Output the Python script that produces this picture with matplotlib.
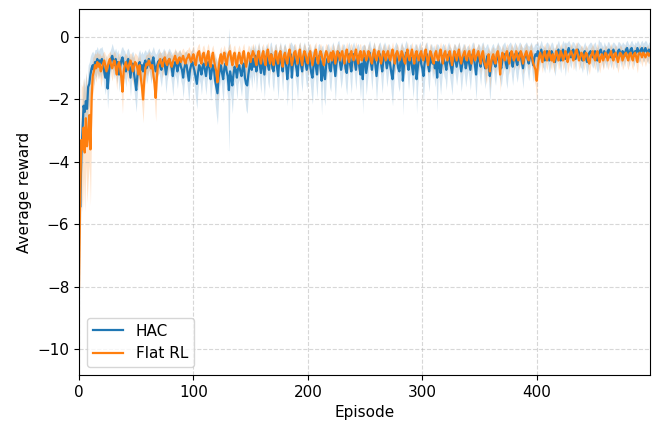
import numpy as np
import matplotlib
matplotlib.use("Agg")
import matplotlib.pyplot as plt

hac_mean = [
-3.65,-5.45,-3.80,-3.05,-2.20,-2.40,-2.05,-2.30,-1.60,-1.50,
-1.20,-1.00,-0.90,-1.05,-0.80,-0.85,-0.70,-0.90,-0.75,-0.85,
-0.70,-0.90,-1.10,-1.30,-1.00,-1.65,-1.20,-0.85,-0.70,-0.60,
-0.75,-0.90,-0.70,-1.00,-0.80,-1.20,-0.95,-0.75,-0.65,-0.85,
-0.90,-1.10,-0.80,-0.70,-1.00,-1.30,-0.95,-0.85,-1.15,-1.40,
-1.70,-1.25,-0.95,-0.80,-1.05,-0.90,-1.10,-0.85,-0.75,-1.00,
-0.90,-0.70,-0.85,-1.00,-0.80,-0.65,-0.90,-1.10,-0.95,-0.80,
-0.75,-0.95,-1.05,-0.85,-0.70,-0.90,-1.20,-0.95,-0.80,-0.70,
-0.85,-1.00,-1.25,-0.95,-0.80,-0.90,-1.10,-0.85,-0.75,-0.95,
-1.05,-1.30,-1.00,-0.85,-0.90,-1.15,-1.40,-1.05,-0.90,-0.80,
-0.95,-1.10,-1.30,-1.50,-1.15,-0.90,-1.00,-1.20,-0.95,-0.85,
-1.05,-1.25,-0.95,-0.80,-1.00,-1.35,-1.10,-0.90,-1.05,-1.40,
-1.60,-1.80,-1.30,-1.05,-0.90,-1.15,-1.35,-1.00,-0.85,-1.10,
-1.25,-1.70,-1.10,-1.30,-1.55,-1.20,-0.95,-1.05,-1.30,-1.00,
-0.90,-1.10,-1.25,-1.00,-0.85,-1.30,-1.50,-1.55,-1.20,-0.95,
-0.75,-1.05,-0.70,-0.95,-0.60,-1.10,-0.85,-0.55,-0.90,-1.15,
-0.70,-0.95,-1.20,-0.80,-0.60,-0.90,-1.05,-0.65,-0.55,-1.00,
-1.10,-0.75,-0.60,-0.95,-1.25,-0.80,-0.55,-0.85,-1.10,-0.70,
-0.60,-0.90,-1.35,-1.00,-0.70,-0.55,-1.30,-0.80,-0.60,-0.85,
-1.00,-1.25,-0.75,-0.55,-0.90,-1.10,-0.70,-0.55,-0.85,-1.05,
-0.85,-0.60,-0.90,-1.15,-1.30,-0.90,-0.65,-0.95,-1.20,-0.75,
-0.60,-0.95,-1.40,-0.75,-1.20,-1.35,-0.90,-0.70,-0.65,-1.00,
-1.10,-0.75,-0.55,-0.90,-1.25,-0.85,-0.60,-0.50,-0.80,-1.05,
-0.85,-0.60,-0.70,-1.00,-1.15,-0.75,-0.55,-0.90,-1.10,-0.70,
-0.55,-0.80,-1.05,-0.70,-0.60,-0.95,-1.20,-0.85,-1.35,-0.65,
-0.75,-1.15,-0.90,-0.65,-0.50,-0.80,-1.05,-0.70,-0.55,-0.90,
-1.25,-0.90,-0.65,-0.55,-0.85,-1.10,-0.75,-0.55,-0.70,-1.00,
-0.80,-0.60,-0.90,-1.15,-1.35,-0.95,-0.70,-0.55,-0.75,-1.00,
-1.10,-0.75,-0.55,-1.40,-0.90,-0.65,-0.50,-0.80,-1.05,-0.75,
-0.65,-0.95,-1.20,-0.85,-0.60,-1.35,-1.00,-0.70,-0.55,-0.85,
-1.00,-1.25,-0.85,-0.65,-0.55,-0.90,-1.10,-0.70,-0.60,-0.85,
-0.70,-1.00,-0.80,-1.30,-0.70,-0.90,-1.15,-0.85,-0.60,-0.75,
-0.85,-1.05,-0.70,-0.55,-0.80,-0.95,-1.15,-0.80,-0.60,-0.75,
-0.95,-0.75,-0.55,-0.80,-1.10,-0.85,-0.60,-0.75,-1.00,-0.80,
-0.65,-0.85,-1.05,-0.75,-0.55,-0.65,-0.90,-1.20,-0.80,-0.60,
-0.75,-0.95,-0.65,-0.55,-0.85,-1.00,-0.75,-0.60,-0.90,-1.25,
-0.95,-0.70,-0.60,-0.85,-0.95,-0.70,-0.55,-0.75,-0.85,-1.00,
-0.75,-0.65,-0.55,-0.85,-1.00,-0.75,-0.60,-0.50,-0.75,-0.95,
-0.70,-0.55,-0.75,-0.90,-0.70,-0.50,-0.60,-0.80,-1.00,-0.70,
-0.60,-0.50,-0.70,-0.85,-0.65,-0.50,-0.70,-0.90,-0.65,-0.55,
-0.60,-0.45,-0.70,-0.55,-0.40,-0.60,-0.65,-0.75,-0.50,-0.45,
-0.55,-0.75,-0.60,-0.45,-0.55,-0.70,-0.80,-0.60,-0.50,-0.40,
-0.60,-0.75,-0.50,-0.40,-0.55,-0.70,-0.55,-0.45,-0.35,-0.55,
-0.65,-0.45,-0.40,-0.55,-0.70,-0.50,-0.40,-0.50,-0.60,-0.65,
-0.75,-0.55,-0.45,-0.65,-0.80,-0.60,-0.50,-0.45,-0.55,-0.65,
-0.55,-0.45,-0.65,-0.75,-0.55,-0.45,-0.40,-0.55,-0.65,-0.45,
-0.55,-0.65,-0.45,-0.40,-0.55,-0.65,-0.50,-0.40,-0.50,-0.60,
-0.65,-0.45,-0.40,-0.50,-0.60,-0.45,-0.50,-0.60,-0.40,-0.35,
-0.50,-0.60,-0.40,-0.35,-0.50,-0.60,-0.45,-0.50,-0.35,-0.45,
-0.55,-0.40,-0.35,-0.50,-0.45,-0.35,-0.45,-0.55,-0.40,-0.45,
]

hac_std = [
0.90,1.20,1.00,1.00,0.90,0.80,0.90,0.80,0.70,0.70,
0.60,0.50,0.45,0.50,0.40,0.45,0.40,0.45,0.40,0.50,
0.40,0.45,0.50,0.55,0.45,0.65,0.50,0.40,0.35,0.40,
0.40,0.45,0.35,0.50,0.40,0.55,0.45,0.40,0.35,0.45,
0.45,0.50,0.40,0.35,0.50,0.60,0.45,0.40,0.55,0.65,
0.70,0.55,0.45,0.40,0.50,0.45,0.55,0.40,0.35,0.50,
0.45,0.35,0.40,0.50,0.40,0.35,0.45,0.55,0.45,0.40,
0.40,0.45,0.55,0.40,0.35,0.45,0.60,0.45,0.40,0.35,
0.40,0.50,0.65,0.45,0.40,0.45,0.55,0.40,0.35,0.45,
0.50,0.65,0.50,0.40,0.45,0.55,0.70,0.50,0.45,0.40,
0.45,0.55,0.70,0.80,0.55,0.45,0.50,0.65,0.45,0.40,
0.50,0.60,0.45,0.40,0.50,0.70,0.55,0.45,0.50,0.75,
0.90,1.00,0.70,0.50,0.45,0.60,0.75,0.50,0.45,0.60,
0.70,2.00,0.60,0.70,0.90,0.60,0.45,0.50,0.70,0.50,
0.45,0.55,0.65,0.50,0.40,0.70,0.85,0.90,0.60,0.45,
0.50,0.60,0.45,0.55,0.40,0.65,0.50,0.40,0.55,0.65,
0.45,0.55,0.75,0.50,0.40,0.55,0.60,0.45,0.40,0.55,
0.65,0.50,0.40,0.55,0.75,0.50,0.40,0.50,0.65,0.45,
0.40,0.55,0.85,0.60,0.45,0.40,1.10,0.50,0.40,0.50,
0.60,0.75,0.50,0.40,0.55,0.65,0.45,0.40,0.50,0.60,
0.55,0.40,0.55,0.70,0.85,0.55,0.45,0.55,0.75,0.50,
0.40,0.55,1.10,0.50,0.75,0.85,0.55,0.45,0.45,0.60,
0.65,0.50,0.40,0.55,0.80,0.55,0.45,0.40,0.50,0.60,
0.55,0.40,0.45,0.60,0.70,0.50,0.40,0.55,0.70,0.45,
0.40,0.50,0.65,0.45,0.40,0.55,0.75,0.55,1.10,0.40,
0.50,0.70,0.55,0.45,0.40,0.50,0.65,0.45,0.40,0.55,
0.80,0.55,0.45,0.40,0.55,0.70,0.50,0.40,0.45,0.60,
0.50,0.40,0.55,0.70,0.85,0.60,0.45,0.40,0.50,0.60,
0.65,0.50,0.40,1.10,0.55,0.45,0.40,0.50,0.65,0.50,
0.45,0.55,0.75,0.55,0.40,1.10,0.60,0.45,0.40,0.50,
0.60,0.80,0.55,0.45,0.40,0.55,0.65,0.45,0.40,0.50,
0.45,0.60,0.50,1.10,0.45,0.55,0.70,0.55,0.40,0.50,
0.50,0.65,0.45,0.40,0.50,0.60,0.70,0.50,0.40,0.50,
0.60,0.50,0.40,0.50,0.65,0.55,0.40,0.50,0.60,0.50,
0.40,0.50,0.65,0.50,0.40,0.45,0.55,0.80,0.50,0.40,
0.50,0.60,0.45,0.40,0.55,0.65,0.50,0.40,0.55,0.80,
0.60,0.45,0.40,0.50,0.60,0.45,0.40,0.50,0.55,0.60,
0.50,0.45,0.40,0.55,0.65,0.50,0.40,0.35,0.50,0.60,
0.45,0.40,0.50,0.55,0.45,0.35,0.40,0.50,0.65,0.45,
0.40,0.35,0.45,0.55,0.40,0.35,0.45,0.55,0.40,0.35,
0.40,0.30,0.40,0.35,0.30,0.35,0.35,0.40,0.30,0.30,
0.35,0.40,0.35,0.30,0.35,0.35,0.45,0.35,0.30,0.30,
0.35,0.40,0.30,0.30,0.35,0.55,0.35,0.30,0.25,0.35,
0.35,0.30,0.25,0.35,0.40,0.30,0.25,0.30,0.35,0.35,
0.40,0.30,0.30,0.35,0.45,0.35,0.30,0.30,0.35,0.35,
0.35,0.30,0.35,0.40,0.50,0.30,0.25,0.30,0.35,0.30,
0.30,0.35,0.30,0.25,0.30,0.35,0.30,0.25,0.30,0.35,
0.35,0.30,0.25,0.30,0.35,0.30,0.30,0.35,0.25,0.25,
0.30,0.35,0.25,0.25,0.30,0.35,0.30,0.30,0.25,0.30,
0.30,0.25,0.25,0.30,0.30,0.25,0.30,0.30,0.25,0.25,
]

flat_mean = [
-8.00,-5.00,-3.30,-3.60,-2.90,-3.70,-2.60,-3.50,-3.20,-2.50,
-3.60,-2.00,-1.25,-1.10,-0.90,-1.00,-0.80,-0.95,-0.85,-1.10,
-1.00,-0.85,-0.75,-0.90,-1.10,-0.95,-0.80,-0.70,-0.90,-1.00,
-0.85,-0.75,-0.95,-1.20,-0.90,-0.80,-1.00,-1.30,-1.75,-1.10,
-0.90,-0.80,-0.95,-1.05,-0.85,-0.75,-0.90,-1.10,-0.95,-0.80,
-0.85,-1.00,-1.20,-0.90,-1.30,-1.60,-2.00,-1.40,-1.00,-0.85,
-0.90,-0.75,-0.85,-1.00,-0.90,-1.20,-1.50,-1.95,-1.30,-0.90,
-0.80,-0.70,-0.85,-0.95,-0.75,-0.65,-0.80,-0.90,-0.75,-0.70,
-0.85,-0.95,-0.80,-0.70,-0.60,-0.75,-0.85,-0.70,-0.65,-0.80,
-0.70,-0.60,-0.75,-0.85,-0.70,-0.65,-0.55,-0.70,-0.80,-0.65,
-0.55,-0.75,-0.90,-0.65,-0.50,-0.45,-0.75,-0.85,-0.60,-0.50,
-0.70,-0.90,-0.60,-0.45,-0.80,-0.95,-0.65,-0.50,-0.75,-0.95,
-1.10,-1.45,-1.00,-0.70,-0.55,-0.85,-0.65,-0.50,-0.75,-0.90,
-0.65,-0.50,-0.45,-0.70,-0.90,-0.60,-0.50,-0.80,-0.95,-0.65,
-0.50,-0.70,-0.85,-0.60,-0.45,-0.75,-0.95,-0.75,-0.50,-0.60,
-0.80,-0.60,-0.45,-0.55,-0.75,-0.90,-0.60,-0.45,-0.70,-0.85,
-0.60,-0.45,-0.70,-0.90,-0.55,-0.40,-0.65,-0.85,-0.55,-0.70,
-0.90,-0.65,-0.45,-0.70,-0.85,-0.55,-0.45,-0.75,-0.95,-0.60,
-0.50,-0.70,-0.85,-0.55,-0.40,-0.65,-0.90,-0.70,-0.50,-0.45,
-0.65,-0.85,-0.55,-0.40,-0.70,-0.90,-0.60,-0.45,-0.55,-0.75,
-0.85,-0.55,-0.45,-0.65,-0.90,-0.70,-0.50,-0.40,-0.70,-0.85,
-0.60,-0.45,-0.55,-0.75,-0.90,-0.60,-0.45,-0.55,-0.80,-0.65,
-0.50,-0.75,-0.45,-0.55,-0.85,-0.65,-0.45,-0.55,-0.75,-0.55,
-0.45,-0.65,-0.85,-0.55,-0.40,-0.65,-0.80,-0.55,-0.45,-0.65,
-0.75,-0.55,-0.40,-0.65,-0.85,-0.55,-0.45,-0.75,-0.65,-0.45,
-0.55,-0.75,-0.65,-0.45,-0.55,-0.75,-0.85,-0.55,-0.40,-0.65,
-0.75,-0.55,-0.45,-0.65,-0.85,-0.65,-0.45,-0.55,-0.75,-0.55,
-0.45,-0.65,-0.75,-0.55,-0.40,-0.65,-0.85,-0.55,-0.45,-0.55,
-0.75,-0.65,-0.45,-0.55,-0.75,-0.85,-0.55,-0.40,-0.65,-0.75,
-0.55,-0.40,-0.65,-0.85,-0.55,-0.45,-0.65,-0.75,-0.55,-0.45,
-0.65,-0.75,-0.55,-0.40,-0.65,-0.90,-0.65,-0.45,-0.55,-0.75,
-0.85,-0.55,-0.45,-0.65,-0.75,-0.55,-0.40,-0.65,-0.85,-0.55,
-0.45,-0.65,-0.75,-0.55,-0.45,-0.65,-0.90,-0.65,-0.45,-0.55,
-0.75,-0.55,-0.40,-0.65,-0.85,-0.65,-0.55,-0.45,-0.65,-0.75,
-0.55,-0.45,-0.65,-0.85,-0.55,-0.40,-0.75,-0.65,-0.55,-0.45,
-0.65,-0.85,-0.55,-0.45,-0.75,-0.90,-1.00,-0.80,-0.55,-1.10,
-0.85,-0.65,-0.55,-0.75,-0.85,-0.55,-0.45,-0.65,-1.20,-0.70,
-0.50,-0.65,-0.75,-0.55,-0.45,-0.65,-0.85,-0.65,-0.45,-0.55,
-0.75,-0.65,-0.45,-0.55,-0.75,-0.65,-0.45,-0.55,-0.85,-0.65,
-0.55,-0.45,-0.65,-0.75,-0.55,-0.45,-0.65,-0.85,-0.95,-1.05,
-1.40,-0.90,-0.65,-0.50,-0.65,-0.80,-0.55,-0.45,-0.65,-0.75,
-0.55,-0.45,-0.65,-0.75,-0.55,-0.80,-0.65,-0.45,-0.55,-0.75,
-0.65,-0.45,-0.55,-0.75,-0.65,-0.45,-0.55,-0.80,-0.65,-0.55,
-0.45,-0.55,-0.75,-0.65,-0.45,-0.40,-0.60,-0.75,-0.65,-0.50,
-0.55,-0.75,-0.65,-0.50,-0.55,-0.75,-0.85,-0.65,-0.55,-0.45,
-0.65,-0.75,-0.55,-0.45,-0.65,-0.80,-0.65,-0.55,-0.75,-0.65,
-0.50,-0.55,-0.75,-0.65,-0.55,-0.45,-0.65,-0.75,-0.55,-0.50,
-0.65,-0.80,-0.65,-0.50,-0.55,-0.75,-0.65,-0.55,-0.50,-0.65,
-0.75,-0.55,-0.50,-0.65,-0.75,-0.55,-0.50,-0.65,-0.80,-0.55,
-0.50,-0.55,-0.65,-0.50,-0.55,-0.65,-0.55,-0.50,-0.60,-0.55,
]

flat_std = [
0.40,1.50,1.80,2.00,1.60,1.90,1.50,1.80,1.40,1.60,
1.80,1.00,0.60,0.50,0.40,0.45,0.35,0.40,0.35,0.50,
0.40,0.35,0.30,0.35,0.45,0.40,0.30,0.25,0.35,0.40,
0.35,0.30,0.40,0.50,0.35,0.30,0.40,0.55,0.70,0.45,
0.35,0.30,0.35,0.40,0.30,0.25,0.35,0.45,0.35,0.30,
0.30,0.40,0.50,0.35,0.55,0.65,0.75,0.55,0.40,0.30,
0.35,0.30,0.30,0.40,0.35,0.50,0.60,0.75,0.50,0.35,
0.30,0.25,0.30,0.35,0.30,0.25,0.30,0.35,0.30,0.25,
0.30,0.35,0.30,0.25,0.25,0.30,0.35,0.25,0.25,0.30,
0.30,0.25,0.30,0.35,0.30,0.25,0.25,0.30,0.35,0.30,
0.30,0.30,0.40,0.30,0.25,0.25,0.30,0.35,0.30,0.25,
0.30,0.35,0.30,0.25,0.35,0.40,0.30,0.25,0.30,0.40,
0.45,0.60,0.40,0.30,0.25,0.35,0.30,0.25,0.30,0.35,
0.30,0.25,0.25,0.30,0.35,0.30,0.25,0.35,0.40,0.30,
0.25,0.30,0.35,0.30,0.25,0.30,0.40,0.35,0.25,0.30,
0.35,0.30,0.25,0.25,0.30,0.35,0.30,0.25,0.30,0.35,
0.30,0.25,0.30,0.35,0.25,0.25,0.30,0.35,0.30,0.30,
0.35,0.30,0.25,0.30,0.35,0.25,0.25,0.30,0.40,0.30,
0.25,0.30,0.35,0.30,0.25,0.30,0.35,0.30,0.25,0.25,
0.30,0.35,0.30,0.25,0.30,0.35,0.30,0.25,0.25,0.30,
0.35,0.30,0.25,0.30,0.35,0.30,0.25,0.25,0.30,0.35,
0.30,0.25,0.25,0.30,0.35,0.30,0.25,0.30,0.35,0.30,
0.25,0.30,0.25,0.25,0.35,0.30,0.25,0.30,0.30,0.25,
0.25,0.30,0.35,0.25,0.25,0.30,0.35,0.30,0.25,0.30,
0.30,0.25,0.25,0.30,0.35,0.30,0.25,0.30,0.30,0.25,
0.25,0.30,0.30,0.25,0.25,0.30,0.35,0.25,0.25,0.30,
0.30,0.25,0.25,0.30,0.35,0.30,0.25,0.25,0.30,0.25,
0.25,0.30,0.30,0.25,0.25,0.30,0.35,0.25,0.25,0.25,
0.30,0.30,0.25,0.25,0.30,0.35,0.25,0.25,0.30,0.30,
0.25,0.25,0.30,0.35,0.25,0.25,0.30,0.30,0.25,0.25,
0.30,0.30,0.25,0.25,0.30,0.35,0.30,0.25,0.25,0.30,
0.35,0.25,0.25,0.30,0.30,0.25,0.25,0.30,0.35,0.25,
0.25,0.30,0.30,0.25,0.25,0.30,0.35,0.30,0.25,0.25,
0.30,0.25,0.25,0.30,0.35,0.30,0.25,0.25,0.30,0.30,
0.25,0.25,0.30,0.35,0.25,0.25,0.30,0.30,0.25,0.25,
0.30,0.35,0.25,0.25,0.30,0.40,0.50,0.40,0.25,0.60,
0.40,0.30,0.25,0.30,0.35,0.25,0.25,0.30,0.55,0.30,
0.25,0.30,0.30,0.25,0.25,0.30,0.35,0.30,0.25,0.25,
0.30,0.30,0.25,0.25,0.30,0.30,0.25,0.25,0.35,0.30,
0.25,0.25,0.30,0.30,0.25,0.25,0.30,0.35,0.45,0.55,
0.75,0.45,0.30,0.25,0.30,0.35,0.25,0.25,0.30,0.30,
0.25,0.25,0.30,0.30,0.25,0.35,0.30,0.25,0.25,0.30,
0.30,0.25,0.25,0.30,0.30,0.25,0.25,0.35,0.30,0.25,
0.25,0.25,0.30,0.30,0.25,0.25,0.25,0.30,0.30,0.25,
0.25,0.30,0.30,0.25,0.25,0.30,0.35,0.30,0.25,0.25,
0.30,0.30,0.25,0.25,0.30,0.35,0.30,0.25,0.30,0.30,
0.25,0.25,0.30,0.30,0.25,0.25,0.30,0.30,0.25,0.25,
0.30,0.35,0.30,0.25,0.25,0.30,0.30,0.25,0.25,0.30,
0.30,0.25,0.25,0.30,0.30,0.25,0.25,0.30,0.35,0.25,
0.25,0.25,0.30,0.25,0.25,0.30,0.25,0.25,0.25,0.25,
]

series_labels = ["HAC", "Flat RL"]
x_ticks = [0, 100, 200, 300, 400]
y_ticks = [-10, -8, -6, -4, -2, 0]

plt.rcParams["font.size"] = 11

episodes = np.arange(len(hac_mean))
hm, hs = np.array(hac_mean), np.array(hac_std)
fm, fs = np.array(flat_mean), np.array(flat_std)

fig = plt.figure(figsize=(6.58, 4.29), dpi=100)
ax = fig.add_axes([79/658, 1-375/429, (650-79)/658, (375-9)/429])

ax.fill_between(episodes, hm - hs, hm + hs, color="C0", alpha=0.2, linewidth=0)
ax.fill_between(episodes, fm - fs, fm + fs, color="C1", alpha=0.2, linewidth=0)
ax.plot(episodes, hm, color="C0", lw=1.6, label=series_labels[0])
ax.plot(episodes, fm, color="C1", lw=1.6, label=series_labels[1])

ax.set_xlim(0, 499)
ax.set_ylim(-10.83, 0.9)
ax.set_xticks(x_ticks)
ax.set_yticks(y_ticks)
ax.grid(True, linestyle="--", alpha=0.5)
ax.set_xlabel("Episode")
ax.set_ylabel("Average reward")
ax.legend(loc="lower left")

fig.savefig("out.png", dpi=100)
